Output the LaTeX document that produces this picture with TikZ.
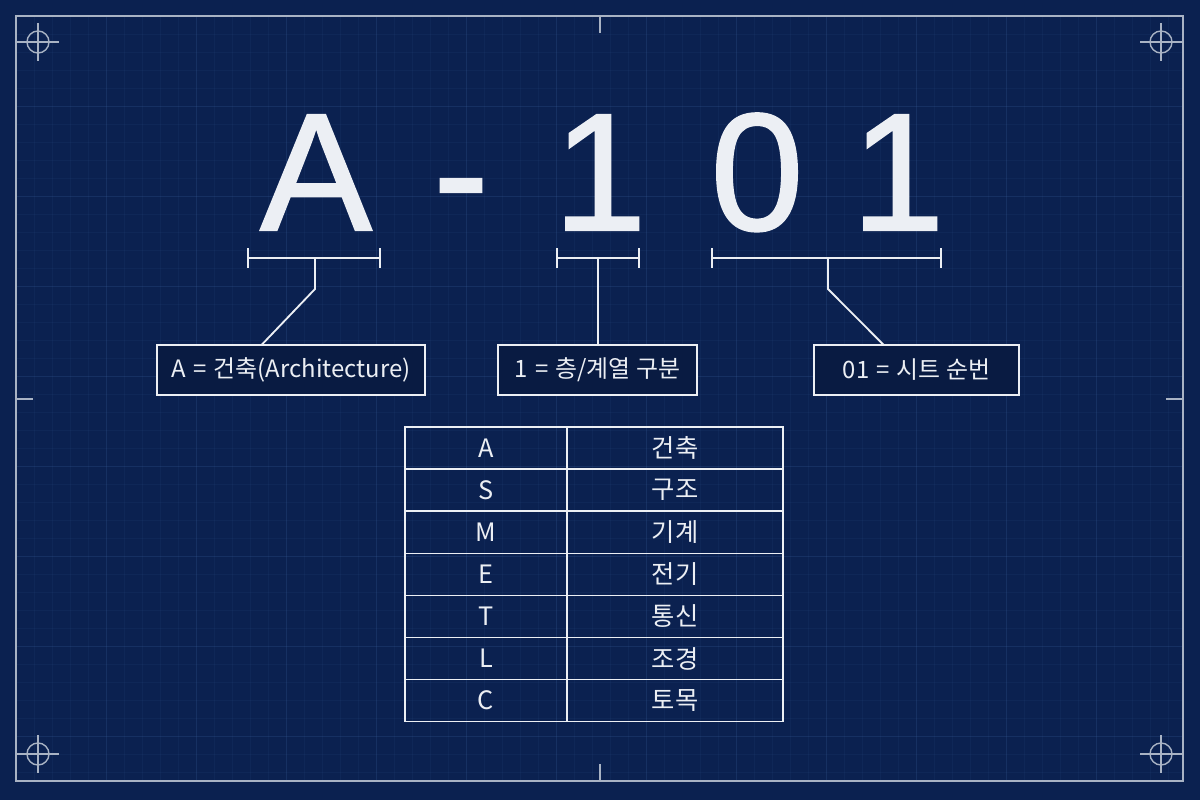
\documentclass[tikz,border=0pt]{standalone}
\usepackage{fontspec}
\setmainfont{Noto Sans CJK KR}
\newfontfamily\bigfont[FakeBold=1.2]{Liberation Sans}
\usepackage{tikz}
\usetikzlibrary{arrows.meta}
\usetikzlibrary{calc}
\definecolor{navy}{HTML}{0B2150}
\definecolor{boxnavy}{HTML}{091B42}
\definecolor{chalk}{HTML}{ECEFF4}
\definecolor{rim}{HTML}{A9B3C4}
\definecolor{gridblue}{HTML}{3A5C96}
\newcommand{\eqgap}{\hspace{0.3em}=\hspace{0.3em}}
\tikzset{
    bigchar/.style={text=chalk, font=\bigfont\fontsize{119}{119}\selectfont, anchor=base, inner sep=0pt},
    span/.style={draw=chalk, line width=1.4pt, {Bar[width=14pt]}-{Bar[width=14pt]}},
    leader/.style={draw=chalk, line width=1.3pt},
    tag/.style={draw=chalk, fill=boxnavy, line width=1.3pt, text=chalk, font=\fontsize{17}{17}\selectfont, minimum height=1.25cm, inner sep=0pt, outer sep=0pt},
    cell/.style={draw=chalk, line width=1pt, text=chalk, font=\fontsize{18}{18}\selectfont, minimum height=1.0525cm, inner sep=0pt, outer sep=0pt},
    target/.style={draw=rim, line width=1pt}}

\begin{document}
\begin{tikzpicture}[x=0.025cm, y=-0.025cm]

    \fill[navy] (0,0) rectangle (1200,800);
    \useasboundingbox (0,0) rectangle (1200,800);

    \begin{scope}
        \clip (16,16) rectangle (1183,781);
        \foreach \gx in {16,34,...,1190} \draw[gridblue, opacity=0.1, line width=0.4pt] (\gx,16) -- (\gx,781);
        \foreach \gy in {16,34,...,790} \draw[gridblue, opacity=0.1, line width=0.4pt] (16,\gy) -- (1183,\gy);
        \foreach \gx in {16,106,...,1190} \draw[gridblue, opacity=0.18, line width=0.6pt] (\gx,16) -- (\gx,781);
        \foreach \gy in {16,106,...,790} \draw[gridblue, opacity=0.18, line width=0.6pt] (16,\gy) -- (1183,\gy);
    \end{scope}

    \draw[rim, line width=1.4pt] (16,16) rectangle (1183,781);
    \draw[rim, line width=1.4pt] (600,16) -- (600,33);
    \draw[rim, line width=1.4pt] (600,764) -- (600,781);
    \draw[rim, line width=1.4pt] (16,399) -- (33,399);
    \draw[rim, line width=1.4pt] (1166,399) -- (1183,399);

    \foreach \cx/\cy in {38/42, 1161/42, 38/754, 1161/754} {
        \draw[target] (\cx,\cy) circle[radius=0.275cm];
        \draw[target] (\cx-21,\cy) -- (\cx+21,\cy);
        \draw[target] (\cx,\cy-19) -- (\cx,\cy+19);
    }

    \node[bigchar] (bigA) at (316,230) {A};
    \node[bigchar] (bigdash) at (461,230) {-};
    \node[bigchar] (bigone) at (600,230) {1};
    \node[bigchar] (bigzero) at (757,230) {0};
    \node[bigchar] (bigonetoo) at (898,230) {1};

    \coordinate (spanAl) at (247,258);
    \coordinate (spanAr) at (381,258);
    \coordinate (spanAm) at (315,258);
    \coordinate (kneeA) at (315,289);
    \coordinate (spanBl) at (556,258);
    \coordinate (spanBr) at (640,258);
    \coordinate (spanBm) at (598,258);
    \coordinate (spanCl) at (711,258);
    \coordinate (spanCr) at (942,258);
    \coordinate (spanCm) at (828,258);
    \coordinate (kneeC) at (828,289);

    \node[tag, minimum width=6.7cm] (tagA) at (291,370) {A\eqgap 건축(Architecture)};
    \node[tag, minimum width=4.975cm] (tagB) at (597.5,370) {1\eqgap 층/계열 구분};
    \node[tag, minimum width=5.125cm] (tagC) at (916.5,370) {01\eqgap 시트 순번};

    \draw[span] (spanAl) -- (spanAr);
    \draw[span] (spanBl) -- (spanBr);
    \draw[span] (spanCl) -- (spanCr);

    \draw[leader] (spanAm) -- (kneeA) -- ($(tagA.north west)!0.39!(tagA.north east)$);
    \draw[leader] (spanBm) -- (spanBm |- tagB.north);
    \draw[leader] (spanCm) -- (kneeC) -- ($(tagC.north west)!0.34!(tagC.north east)$);

    \foreach \code/\trade [count=\i] in {A/건축, S/구조, M/기계, E/전기, T/통신, L/조경, C/토목} {
        \node[cell, minimum width=4.05cm] (code\i) at (486,{427+42.1*(\i-0.5)}) {\code};
        \node[cell, minimum width=5.4cm] (trade\i) at (675,{427+42.1*(\i-0.5)}) {\trade};
    }

\end{tikzpicture}
\end{document}
